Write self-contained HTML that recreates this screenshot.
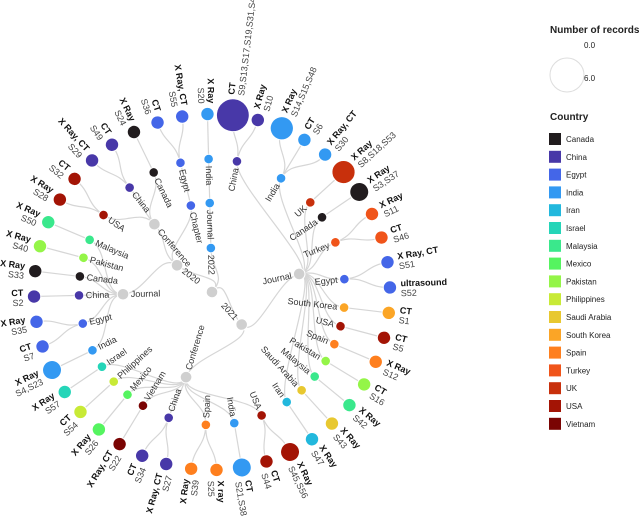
<!DOCTYPE html>
<html><head><meta charset="utf-8"><style>
body{margin:0;background:#fff}
svg{display:block;font-family:"Liberation Sans",sans-serif}
</style></head><body>
<svg id="chart" width="640" height="516" viewBox="0 0 640 516">
<g id="links"></g>
<g id="nodes"></g>
<g id="legend"></g>
</svg>
<script>
// ---- data ----
const countries = ["Canada","China","Egypt","India","Iran","Israel","Malaysia","Mexico","Pakistan","Philippines","Saudi Arabia","South Korea","Spain","Turkey","UK","USA","Vietnam"];
const countryColors = ["#211c1e","#4838a8","#4466e8","#3399f2","#22b8dd","#25d5b8","#3ae88c","#55f460","#94f548","#c8ea36","#e8c830","#fba526","#fe7f1e","#f0541a","#c8300c","#a31405","#7a0403"];
// leaves: [year, publication type, country, imaging type, study ids]
const leaves = [
 ["2020","Journal","India","X Ray","S4,S23"],
 ["2020","Journal","Egypt","CT","S7"],
 ["2020","Journal","Egypt","X Ray","S35"],
 ["2020","Journal","China","CT","S2"],
 ["2020","Journal","Canada","X Ray","S33"],
 ["2020","Journal","Pakistan","X Ray","S40"],
 ["2020","Journal","Malaysia","X Ray","S50"],
 ["2020","Conference","USA","X Ray","S28"],
 ["2020","Conference","USA","CT","S32"],
 ["2020","Conference","China","X Ray, CT","S29"],
 ["2020","Conference","China","CT","S49"],
 ["2020","Conference","Canada","X Ray","S24"],
 ["2020","Chapter","Egypt","CT","S36"],
 ["2020","Chapter","Egypt","X Ray, CT","S55"],
 ["2022","Journal","India","X Ray","S20"],
 ["2021","Journal","China","CT","S9,S13,S17,S19,S31,S41"],
 ["2021","Journal","China","X Ray","S10"],
 ["2021","Journal","India","X Ray","S14,S15,S48"],
 ["2021","Journal","India","CT","S6"],
 ["2021","Journal","India","X Ray, CT","S30"],
 ["2021","Journal","UK","X Ray","S8,S18,S53"],
 ["2021","Journal","Canada","X Ray","S3,S37"],
 ["2021","Journal","Turkey","X Ray","S11"],
 ["2021","Journal","Turkey","CT","S46"],
 ["2021","Journal","Egypt","X Ray, CT","S51"],
 ["2021","Journal","Egypt","ultrasound","S52"],
 ["2021","Journal","South Korea","CT","S1"],
 ["2021","Journal","USA","CT","S5"],
 ["2021","Journal","Spain","X Ray","S12"],
 ["2021","Journal","Pakistan","CT","S16"],
 ["2021","Journal","Malaysia","X Ray","S42"],
 ["2021","Journal","Saudi Arabia","X Ray","S43"],
 ["2021","Journal","Iran","X Ray","S47"],
 ["2021","Conference","USA","X Ray","S45,S56"],
 ["2021","Conference","USA","CT","S44"],
 ["2021","Conference","India","CT","S21,S38"],
 ["2021","Conference","Spain","X ray","S25"],
 ["2021","Conference","Spain","X Ray","S39"],
 ["2021","Conference","China","X Ray, CT","S27"],
 ["2021","Conference","China","CT","S34"],
 ["2021","Conference","Vietnam","X Ray, CT","S22"],
 ["2021","Conference","Mexico","X Ray","S26"],
 ["2021","Conference","Philippines","CT","S54"],
 ["2021","Conference","Israel","X Ray","S57"]
];
const legendSizes = ["0.0","6.0"];

// ---- layout ----
const CX=212, CY=292, RAD=[0,44,89,133,178], START=154;
const NS="http://www.w3.org/2000/svg";
const colorOf = c => countryColors[countries.indexOf(c)];
const rScale = n => 6.7*Math.sqrt(n);
const step = 360/leaves.length;

const root={name:"",children:[],depth:0};
leaves.forEach((l,i)=>{
  let node=root;
  for(let d=0;d<3;d++){
    let ch=node.children.find(c=>c.name===l[d]);
    if(!ch){ch={name:l[d],children:[],depth:d+1,parent:node};node.children.push(ch);}
    node=ch;
  }
  node.children.push({name:l[3],ids:l[4],country:l[2],depth:4,parent:node,angle:START+i*step,leaf:true});
});
function place(n){
  if(n.leaf){n.countries=[n.country];return;}
  n.children.forEach(place);
  n.angle=(n.children[0].angle+n.children[n.children.length-1].angle)/2;
  n.countries=[...new Set(n.children.flatMap(c=>c.countries))];
}
place(root);
const pt=(a,r)=>[CX+r*Math.cos(a*Math.PI/180),CY+r*Math.sin(a*Math.PI/180)];
const all=[];(function walk(n){all.push(n);(n.children||[]).forEach(walk);})(root);

const linksG=document.getElementById('links'), nodesG=document.getElementById('nodes');
all.forEach(n=>{
  if(!n.parent)return;
  const r0=RAD[n.depth-1], r1=RAD[n.depth], m=(r0+r1)/2;
  const p0=pt(n.parent.angle,r0), c1=pt(n.parent.angle,m), c2=pt(n.angle,m), p1=pt(n.angle,r1);
  const path=document.createElementNS(NS,'path');
  path.setAttribute('d',`M${p0}C${c1} ${c2} ${p1}`);
  path.setAttribute('fill','none');path.setAttribute('stroke','#d6d6d6');path.setAttribute('stroke-width','1.2');
  
  
  linksG.appendChild(path);
});
all.forEach(n=>{
  const a=((n.angle%360)+360)%360, r=RAD[n.depth];
  const g=document.createElementNS(NS,'g');
  g.setAttribute('transform',`translate(${CX},${CY}) rotate(${a}) translate(${r},0)`);
  
  
  const c=document.createElementNS(NS,'circle');
  const single=n.countries.length===1;
  const rad=n.leaf?rScale(n.ids.split(',').length):(single?4.8:5.8);
  c.setAttribute('r',rad);
  c.setAttribute('fill',single?colorOf(n.countries[0]):'#cfcfcf');
  c.setAttribute('stroke','#fff');c.setAttribute('stroke-width','1');
  
  
  g.appendChild(c);
  const left = a>90 && a<270;
  if(n.depth>0){
    const t=document.createElementNS(NS,'text');
    t.setAttribute('font-size','9');
    if(left)t.setAttribute('transform','rotate(180)');
    if(n.leaf){
      const off=rad+4;
      t.setAttribute('text-anchor',left?'end':'start');
      const x=left?-off:off;
      const s1=document.createElementNS(NS,'tspan');
      s1.setAttribute('x',x);s1.setAttribute('y',-1);s1.setAttribute('font-weight','bold');s1.setAttribute('fill','#111');
      s1.textContent=n.name;
      const s2=document.createElementNS(NS,'tspan');
      s2.setAttribute('x',x);s2.setAttribute('y',9);s2.setAttribute('fill','#444');
      s2.textContent=n.ids;
      t.appendChild(s1);t.appendChild(s2);
      
    } else {
      t.setAttribute('text-anchor',left?'start':'end');
      t.setAttribute('x',left?rad+2:-(rad+2));t.setAttribute('y',3);t.setAttribute('fill','#333');
      t.textContent=n.name;
      
    }
    
    g.appendChild(t);
  }
  nodesG.appendChild(g);
});

// ---- legend ----
const lg=document.getElementById('legend');
function tx(x,y,s,txt,bold,name){
  const t=document.createElementNS(NS,'text');
  t.setAttribute('x',x);t.setAttribute('y',y);t.setAttribute('font-size',s);
  if(bold)t.setAttribute('font-weight','bold');
  t.setAttribute('fill','#222');t.textContent=txt;
  
  
  lg.appendChild(t);
}
tx(550,33,10,"Number of records",true,'size-legend-title');
tx(584,48,8,legendSizes[0],false,'size-legend-min');
tx(584,81,8,legendSizes[1],false,'size-legend-max');
const lc=document.createElementNS(NS,'circle');
lc.setAttribute('cx',567);lc.setAttribute('cy',75);lc.setAttribute('r',17);
lc.setAttribute('fill','none');lc.setAttribute('stroke','#ddd');


lg.appendChild(lc);
tx(550,120,10,"Country",true,'country-legend-title');
countries.forEach((c,i)=>{
  const y=139+i*17.8;
  const r=document.createElementNS(NS,'rect');
  r.setAttribute('x',549);r.setAttribute('y',y-6);r.setAttribute('width',12);r.setAttribute('height',12);
  r.setAttribute('fill',countryColors[i]);
  
  
  lg.appendChild(r);
  tx(566,y+3,8,c,false,'legend-entry');
});
</script>
</body></html>
